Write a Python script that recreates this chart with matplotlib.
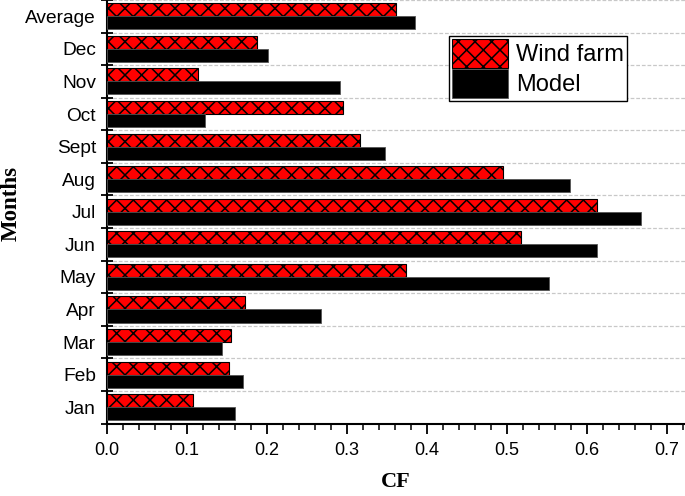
import matplotlib
matplotlib.use('Agg')
import matplotlib.pyplot as plt
import numpy as np
from matplotlib.ticker import MultipleLocator, FixedLocator

months = ['Jan', 'Feb', 'Mar', 'Apr', 'May', 'Jun', 'Jul', 'Aug', 'Sept', 'Oct', 'Nov', 'Dec', 'Average']
wind_farm = [0.108, 0.152, 0.1545, 0.1725, 0.374, 0.517, 0.612, 0.495, 0.316, 0.2945, 0.114, 0.187, 0.361]
model = [0.160, 0.170, 0.144, 0.267, 0.553, 0.613, 0.6675, 0.579, 0.347, 0.1225, 0.291, 0.2015, 0.385]

plt.rcParams['font.family'] = ['Liberation Sans', 'DejaVu Sans']
plt.rcParams['hatch.linewidth'] = 1.1
plt.rcParams['hatch.color'] = 'black'

fig = plt.figure(figsize=(6.85, 4.96), dpi=100)
ax = fig.add_axes([107/685, 72.5/496, 578/685, 423.5/496])

y = np.arange(len(months))
h = 0.4
ax.barh(y + h/2, wind_farm, height=h, color='red', edgecolor='black',
        linewidth=0.8, hatch='xx', label='Wind farm', zorder=3)
ax.barh(y - h/2, model, height=h, color='black', edgecolor='#555555',
        linewidth=0.6, label='Model', zorder=3)

ax.set_xlim(0, 0.7225)
ax.set_ylim(-0.5, len(months) - 0.5)

ax.set_yticks(y)
ax.set_yticklabels(months)
ax.yaxis.set_minor_locator(FixedLocator(np.arange(-0.5, len(months), 1.0)))
ax.tick_params(axis='y', which='major', length=0, labelsize=13.8, pad=8)
ax.tick_params(axis='y', which='minor', direction='inout', length=8, width=1.3)

ax.xaxis.set_major_locator(MultipleLocator(0.1))
ax.xaxis.set_minor_locator(MultipleLocator(0.02))
ax.set_xticklabels(['%.1f' % v for v in ax.get_xticks()])
ax.tick_params(axis='x', which='major', direction='out', length=7, width=1.3, labelsize=13, pad=6)
ax.tick_params(axis='x', which='minor', direction='out', length=4, width=1.1)

ax.grid(axis='y', which='minor', linestyle=(0, (3, 1.5)), color='#c8c8c8', linewidth=0.9, zorder=0)

for s in ['top', 'right']:
    ax.spines[s].set_visible(False)
for s in ['left', 'bottom']:
    ax.spines[s].set_linewidth(1.5)

ax.set_xlabel('CF', fontsize=16, fontweight='bold', family='Liberation Serif', labelpad=10)
ax.set_ylabel('Months', fontsize=16.5, fontweight='bold', family='Liberation Serif')
ax.yaxis.set_label_coords(-0.147, 0.52)

leg = ax.legend(loc='upper right', bbox_to_anchor=(0.9, 0.915), fontsize=17,
                frameon=True, fancybox=False, edgecolor='black', framealpha=1,
                handlelength=2.37, handleheight=1.5, labelspacing=0.07,
                handletextpad=0.36, borderpad=0.12, borderaxespad=0)
leg.get_frame().set_linewidth(1.0)

fig.savefig('out.png', dpi=100)
